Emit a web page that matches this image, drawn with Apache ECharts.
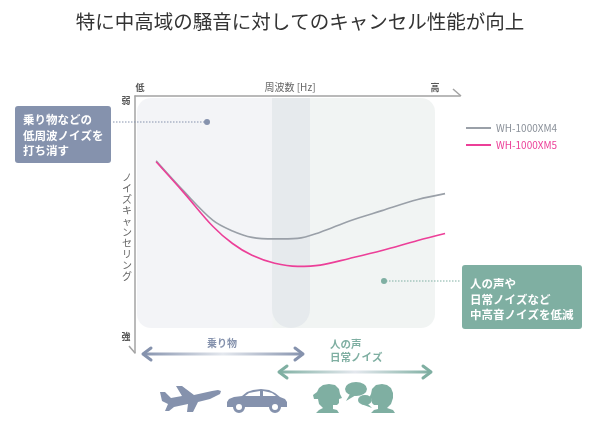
<!DOCTYPE html>
<html>
<head>
<meta charset="utf-8">
<script src="https://cdn.jsdelivr.net/npm/echarts@6/dist/echarts.min.js"></script>
<style>
html, body { margin: 0; padding: 0; background: #fff; }
#main { width: 600px; height: 427px; }
</style>
</head>
<body>
<div id="main"></div>
<script>
// frequency position (0 = 低, 100 = 高) and cancel level (0 = 強, 100 = 弱)
const freq = [6.5, 15, 24, 30, 36, 43, 50, 57, 66, 76, 87, 95.4];
const xm4Level = [74.8, 63.0, 51.6, 47.5, 45.0, 44.4, 44.6, 47.0, 51.4, 55.4, 59.7, 62.0];
const xm5Level = [74.4, 62.4, 49.2, 42.6, 38.0, 34.9, 33.7, 34.2, 36.8, 39.9, 43.8, 46.5];
const modelNames = ['WH-1000XM4', 'WH-1000XM5'];
const modelColors = ['#9aa0a8', '#ec3f98'];

const FONT = '"Noto Sans CJK JP", "Noto Sans", sans-serif';
const BLUE = '#8592ad';
const GREEN = '#7fafa2';
const AXIS = '#a3a3a3';

let chartDom = document.getElementById('main');
let myChart = echarts.init(chartDom);

function pairs(xs, ys) {
    return xs.map(function (x, i) { return [x, ys[i]]; });
}

function chevron(x, y, dir, color) {
    return {
        type: 'polyline', z: 5,
        shape: { points: [[x + 8 * dir, y - 6], [x, y], [x + 8 * dir, y + 6]] },
        style: { stroke: color, lineWidth: 3, fill: null, lineCap: 'round', lineJoin: 'round' }
    };
}

function arrowBar(x1, x2, y, color) {
    return [
        {
            type: 'line', z: 5,
            shape: { x1: x1 + 1, y1: y, x2: x2 - 1, y2: y },
            style: {
                lineWidth: 3,
                stroke: new echarts.graphic.LinearGradient(0, 0, 1, 0, [
                    { offset: 0, color: color },
                    { offset: 0.5, color: '#e4e8ee' },
                    { offset: 1, color: color }
                ])
            }
        },
        chevron(x1, y, 1, color),
        chevron(x2, y, -1, color)
    ];
}

function txt(x, y, text, size, color, extra) {
    return {
        type: 'text', z: 6, x: x, y: y,
        style: Object.assign({
            text: text, fontSize: size, fill: color, fontFamily: FONT
        }, extra || {})
    };
}

function poly(x, y, points, fill, z) {
    return { type: 'polygon', z: z || 5, x: x, y: y, shape: { points: points }, style: { fill: fill } };
}

function oval(cx, cy, rx, ry, fill) {
    return { type: 'circle', z: 5, x: cx, y: cy, scaleY: ry / rx, shape: { cx: 0, cy: 0, r: rx }, style: { fill: fill } };
}

const graphics = [
    // background panel
    {
        type: 'rect', z: 0,
        shape: { x: 137, y: 98, width: 298, height: 230, r: 14 },
        style: {
            fill: new echarts.graphic.LinearGradient(0, 0, 1, 0, [
                { offset: 0, color: '#f3f4f7' },
                { offset: 0.45, color: '#f3f4f7' },
                { offset: 0.46, color: '#f1f4f3' },
                { offset: 1, color: '#f1f4f3' }
            ])
        }
    },
    {
        type: 'rect', z: 0,
        shape: { x: 272, y: 98, width: 38, height: 230, r: [0, 0, 19, 19] },
        style: { fill: '#e6eaed' }
    },
    // axis arrow ends
    { type: 'line', z: 4, shape: { x1: 453, y1: 89, x2: 461, y2: 96 }, style: { stroke: AXIS, lineWidth: 1.5 } },
    { type: 'line', z: 4, shape: { x1: 129, y1: 346, x2: 135, y2: 353 }, style: { stroke: AXIS, lineWidth: 1.5 } },
    // axis texts
    txt(140, 88, '低', 9, '#555', { align: 'center', verticalAlign: 'middle', fontWeight: 'bold' }),
    txt(126, 101, '弱', 9, '#555', { align: 'center', verticalAlign: 'middle', fontWeight: 'bold' }),
    txt(126, 337, '強', 9, '#555', { align: 'center', verticalAlign: 'middle', fontWeight: 'bold' }),
    txt(435, 88, '高', 9, '#555', { align: 'center', verticalAlign: 'middle', fontWeight: 'bold' }),
    txt(290, 87, '周波数 [Hz]', 10, '#666', { align: 'center', verticalAlign: 'middle' }),
    txt(127, 227, 'ノイズキャンセリング'.split('').join('\n'), 10, '#666',
        { align: 'center', verticalAlign: 'middle', lineHeight: 11 }),
    // left note
    {
        type: 'line', z: 4, shape: { x1: 113, y1: 122, x2: 205, y2: 122 },
        style: { stroke: BLUE, lineWidth: 1, lineDash: [1.5, 1.5] }
    },
    { type: 'circle', z: 4, shape: { cx: 207, cy: 122, r: 3 }, style: { fill: BLUE } },
    { type: 'rect', z: 5, shape: { x: 15, y: 106, width: 96, height: 57, r: 3 }, style: { fill: BLUE } },
    txt(23, 112, '乗り物などの\n低周波ノイズを\n打ち消す', 11.5, '#fff', { fontWeight: 'bold', lineHeight: 15.5 }),
    // right note
    {
        type: 'line', z: 4, shape: { x1: 386, y1: 281, x2: 461, y2: 281 },
        style: { stroke: GREEN, lineWidth: 1, lineDash: [1.5, 1.5] }
    },
    { type: 'circle', z: 4, shape: { cx: 384, cy: 281, r: 3 }, style: { fill: GREEN } },
    { type: 'rect', z: 5, shape: { x: 462, y: 265, width: 120, height: 64, r: 3 }, style: { fill: GREEN } },
    txt(470, 276, '人の声や\n日常ノイズなど\n中高音ノイズを低減', 11.5, '#fff', { fontWeight: 'bold', lineHeight: 15.5 }),
    // bottom ranges
    txt(222, 343, '乗り物', 10, BLUE, { align: 'center', verticalAlign: 'middle', fontWeight: 'bold' }),
    txt(330, 337, '人の声\n日常ノイズ', 10.5, GREEN, { fontWeight: 'bold', lineHeight: 13.5 }),
    // airplane
    poly(160, 384, [[0, 8], [5, 8], [11, 14], [22, 12], [16, 2], [22, 2], [34, 11], [52, 7], [58, 6], [61, 7],
        [60, 10], [56, 12], [50, 15], [38, 18], [33, 28], [27, 28], [28, 20], [14, 23], [9, 27], [5, 27],
        [8, 20], [2, 17]], BLUE),
    // car
    poly(225, 388, [[2, 19], [2, 14], [4, 11], [9, 9], [17, 8], [22, 4], [28, 2], [36, 1], [44, 2], [50, 5],
        [55, 9], [60, 11], [62, 14], [62, 19]], BLUE),
    poly(225, 388, [[20, 8], [24, 5], [29, 4], [35, 3], [35, 8]], '#fff', 6),
    poly(225, 388, [[38, 3], [43, 4], [47, 5], [51, 8], [38, 8]], '#fff', 6),
    { type: 'circle', z: 6, shape: { cx: 239, cy: 407, r: 4.5 }, style: { fill: '#fff', stroke: BLUE, lineWidth: 3 } },
    { type: 'circle', z: 6, shape: { cx: 275, cy: 407, r: 4.5 }, style: { fill: '#fff', stroke: BLUE, lineWidth: 3 } },
    // people
    poly(312, 383, [[2, 16], [1, 12], [5, 9], [7, 5], [11, 2], [17, 1], [23, 2], [27, 6], [28, 11], [30, 15],
        [27, 16], [27, 20], [25, 22], [21, 22], [21, 26], [25, 27], [27, 30], [4, 30], [7, 27], [11, 25],
        [7, 21], [6, 16]], GREEN),
    poly(366, 383, [[29, 30], [27, 27], [21, 25], [25, 21], [27, 15], [27, 10], [25, 5], [21, 2], [16, 1],
        [10, 2], [6, 6], [5, 11], [3, 15], [6, 16], [6, 20], [8, 22], [12, 22], [12, 26], [8, 27], [5, 30]], GREEN),
    oval(356, 389, 11, 7, GREEN),
    poly(0, 0, [[350, 394], [346, 401], [356, 395]], GREEN),
    oval(365, 400, 7, 5, GREEN),
    poly(0, 0, [[367, 403], [372, 408], [361, 404]], GREEN)
].concat(arrowBar(143, 303, 354, BLUE), arrowBar(279, 431, 372, GREEN));

let option = {
    backgroundColor: '#fff',
    title: {
        text: '特に中高域の騒音に対してのキャンセル性能が向上',
        left: 'center',
        top: 7,
        textStyle: { fontFamily: FONT, fontSize: 19.5, fontWeight: 'normal', color: '#333' }
    },
    legend: {
        left: 461,
        top: 117,
        orient: 'vertical',
        icon: 'rect',
        itemWidth: 25,
        itemHeight: 2,
        itemGap: 5,
        data: modelNames.map(function (n, i) {
            return { name: n, textStyle: { color: i === 0 ? '#8a9099' : modelColors[1] } };
        }),
        textStyle: { fontFamily: FONT, fontSize: 10, lineHeight: 12 }
    },
    grid: { left: 135, right: 140, top: 96, bottom: 74 },
    xAxis: {
        type: 'value', position: 'top', min: 0, max: 100,
        axisLine: { show: true, onZero: false, lineStyle: { color: AXIS, width: 1.5 } },
        axisTick: { show: false }, axisLabel: { show: false }, splitLine: { show: false }
    },
    yAxis: {
        type: 'value', min: 0, max: 100,
        axisLine: { show: true, onZero: false, lineStyle: { color: AXIS, width: 1.5 } },
        axisTick: { show: false }, axisLabel: { show: false }, splitLine: { show: false }
    },
    graphic: graphics,
    series: [xm4Level, xm5Level].map(function (levels, i) {
        return {
            name: modelNames[i],
            type: 'line',
            z: 3,
            smooth: 0.35,
            symbol: 'none',
            color: modelColors[i],
            lineStyle: { width: 1.6, color: modelColors[i] },
            data: pairs(freq, levels)
        };
    })
};

myChart.setOption(option);
</script>
</body>
</html>
